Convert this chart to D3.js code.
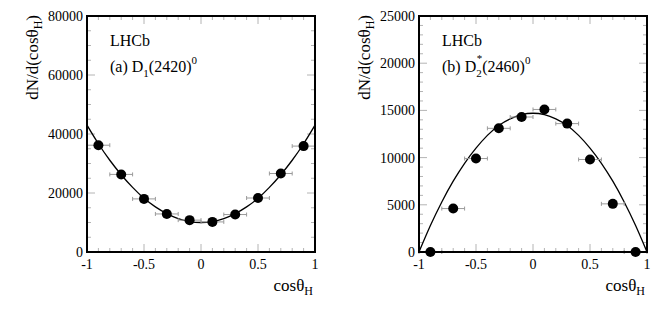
<!DOCTYPE html>
<html>
<head>
<meta charset="utf-8">
<script src="https://cdn.jsdelivr.net/npm/d3@7"></script>
<style>
  body { margin: 0; background: #fff; }
  svg { display: block; }
</style>
</head>
<body>
<svg width="664" height="315"></svg>
<script>
"use strict";

// bin centres and half width in cos(theta_H)
const cosBins = [-0.9, -0.7, -0.5, -0.3, -0.1, 0.1, 0.3, 0.5, 0.7, 0.9];
const binHalfWidth = 0.1;

// measured yields per panel
const d1Yields = [36200, 26300, 18000, 12900, 10800, 10200, 12700, 18300, 26600, 35900];
const d2Yields = [0, 4600, 9900, 13100, 14300, 15100, 13600, 9800, 5100, 0];

// fitted curves
const fitX = [-1, -0.9, -0.8, -0.7, -0.6, -0.5, -0.4, -0.3, -0.2, -0.1, 0, 0.1, 0.2, 0.3, 0.4, 0.5, 0.6, 0.7, 0.8, 0.9, 1];
const d1Fit = [43000, 36700, 31100, 26200, 21900, 18200, 15300, 13000, 11300, 10300, 10000, 10300, 11300, 13000, 15300, 18200, 21900, 26200, 31100, 36700, 43000];
const d2Fit = [0, 2800, 5300, 7500, 9400, 11000, 12350, 13400, 14100, 14550, 14700, 14550, 14100, 13400, 12350, 11000, 9400, 7500, 5300, 2800, 0];

// axes
const xTicks = [-1, -0.5, 0, 0.5, 1];
const d1YTicks = [0, 20000, 40000, 60000, 80000];
const d2YTicks = [0, 5000, 10000, 15000, 20000, 25000];

const serif = "'Liberation Serif', 'Times New Roman', Times, 'DejaVu Serif', serif";
const svg = d3.select("svg").attr("font-family", serif);
const plotTop = 16, plotBottom = 252, plotW = 228;

const panels = [
  {left: 87, yMax: 80000, ticks: d1YTicks, minor: 16, ys: d1Yields, fit: d1Fit, tag: "(a) D", sub: "1", sup: "", tail: "(2420)", id: "a"},
  {left: 419, yMax: 25000, ticks: d2YTicks, minor: 25, ys: d2Yields, fit: d2Fit, tag: "(b) D", sub: "2", sup: "*", tail: "(2460)", id: "b"}
];

panels.forEach(drawPanel);

function drawPanel(p) {
  const x = d3.scaleLinear().domain([-1, 1]).range([p.left, p.left + plotW]);
  const y = d3.scaleLinear().domain([0, p.yMax]).range([plotBottom, plotTop]);
  const g = svg.append("g");

  g.append("clipPath").attr("id", "clip" + p.id)
    .append("rect").attr("x", p.left).attr("y", plotTop).attr("width", plotW).attr("height", plotBottom - plotTop);

  //tick marks, grey, inward on all four sides
  const tickCol = "#b4b4b4";
  const ticksG = g.append("g").attr("stroke", tickCol).attr("stroke-width", 1);
  x.ticks(20).forEach(function(t) {
    const major = xTicks.some(m => Math.abs(m - t) < 1e-9);
    const len = major ? 8 : 4;
    ticksG.append("line").attr("x1", x(t)).attr("x2", x(t)).attr("y1", plotBottom).attr("y2", plotBottom - len);
    ticksG.append("line").attr("x1", x(t)).attr("x2", x(t)).attr("y1", plotTop).attr("y2", plotTop + len);
  });
  y.ticks(p.minor).forEach(function(t) {
    const major = p.ticks.includes(t);
    const len = major ? 8 : 4;
    ticksG.append("line").attr("y1", y(t)).attr("y2", y(t)).attr("x1", p.left).attr("x2", p.left + len);
    ticksG.append("line").attr("y1", y(t)).attr("y2", y(t)).attr("x1", p.left + plotW).attr("x2", p.left + plotW - len);
  });

  //tick labels
  g.append("g").selectAll("text").data(xTicks).join("text")
    .attr("x", d => x(d)).attr("y", plotBottom + 17)
    .attr("text-anchor", "middle").attr("font-size", 14)
    .text(d => d);
  g.append("g").selectAll("text").data(p.ticks).join("text")
    .attr("x", p.left - 4).attr("y", d => y(d) + 5)
    .attr("text-anchor", "end").attr("font-size", 14)
    .text(d => d);

  //fit curve
  const line = d3.line().x((d, i) => x(fitX[i])).y(d => y(d)).curve(d3.curveNatural);
  g.append("path").datum(p.fit)
    .attr("d", line).attr("fill", "none").attr("stroke", "#000").attr("stroke-width", 1.3)
    .attr("clip-path", "url(#clip" + p.id + ")");

  //horizontal error bars with small end caps
  const eb = g.append("g").attr("stroke", "#9a9a9a").attr("stroke-width", 1);
  cosBins.forEach(function(c, i) {
    const yy = y(p.ys[i]);
    eb.append("line").attr("x1", x(c - binHalfWidth)).attr("x2", x(c + binHalfWidth)).attr("y1", yy).attr("y2", yy);
    eb.append("line").attr("x1", x(c - binHalfWidth)).attr("x2", x(c - binHalfWidth)).attr("y1", yy - 2).attr("y2", yy + 2);
    eb.append("line").attr("x1", x(c + binHalfWidth)).attr("x2", x(c + binHalfWidth)).attr("y1", yy - 2).attr("y2", yy + 2);
  });

  //data points
  g.append("g").selectAll("circle").data(cosBins).join("circle")
    .attr("cx", d => x(d)).attr("cy", (d, i) => y(p.ys[i])).attr("r", 5)
    .attr("fill", "#000");

  //frame
  g.append("rect").attr("x", p.left).attr("y", plotTop).attr("width", plotW).attr("height", plotBottom - plotTop)
    .attr("fill", "none").attr("stroke", "#000").attr("stroke-width", 2);

  //labels
  g.append("text").attr("x", p.left + 23).attr("y", 46).attr("font-size", 16).text("LHCb");
  const t = g.append("text").attr("x", p.left + 23).attr("y", 72).attr("font-size", 16);
  t.append("tspan").text(p.tag);
  t.append("tspan").attr("font-size", 11).attr("dy", 5).text(p.sub);
  if (p.sup) {
    t.append("tspan").attr("font-size", 11).attr("dx", -5).attr("dy", -15).text(p.sup);
    t.append("tspan").attr("dy", 10).text(p.tail);
  } else {
    t.append("tspan").attr("dy", -5).text(p.tail);
  }
  t.append("tspan").attr("font-size", 11).attr("dy", -8).text("0");

  //x axis title
  const xt = g.append("text").attr("x", p.left + plotW - 2).attr("y", 291)
    .attr("text-anchor", "end").attr("font-size", 17);
  xt.append("tspan").text("cosθ");
  xt.append("tspan").attr("font-size", 12).attr("dy", 4).text("H");

  //y axis title
  const yt = g.append("text")
    .attr("transform", "translate(" + (p.left - 49) + "," + (plotTop - 1) + ") rotate(-90)")
    .attr("text-anchor", "end").attr("font-size", 17);
  yt.append("tspan").text("dN/d(cosθ");
  yt.append("tspan").attr("font-size", 12).attr("dy", 4).text("H");
  yt.append("tspan").attr("dy", -4).text(")");
}
</script>
</body>
</html>
